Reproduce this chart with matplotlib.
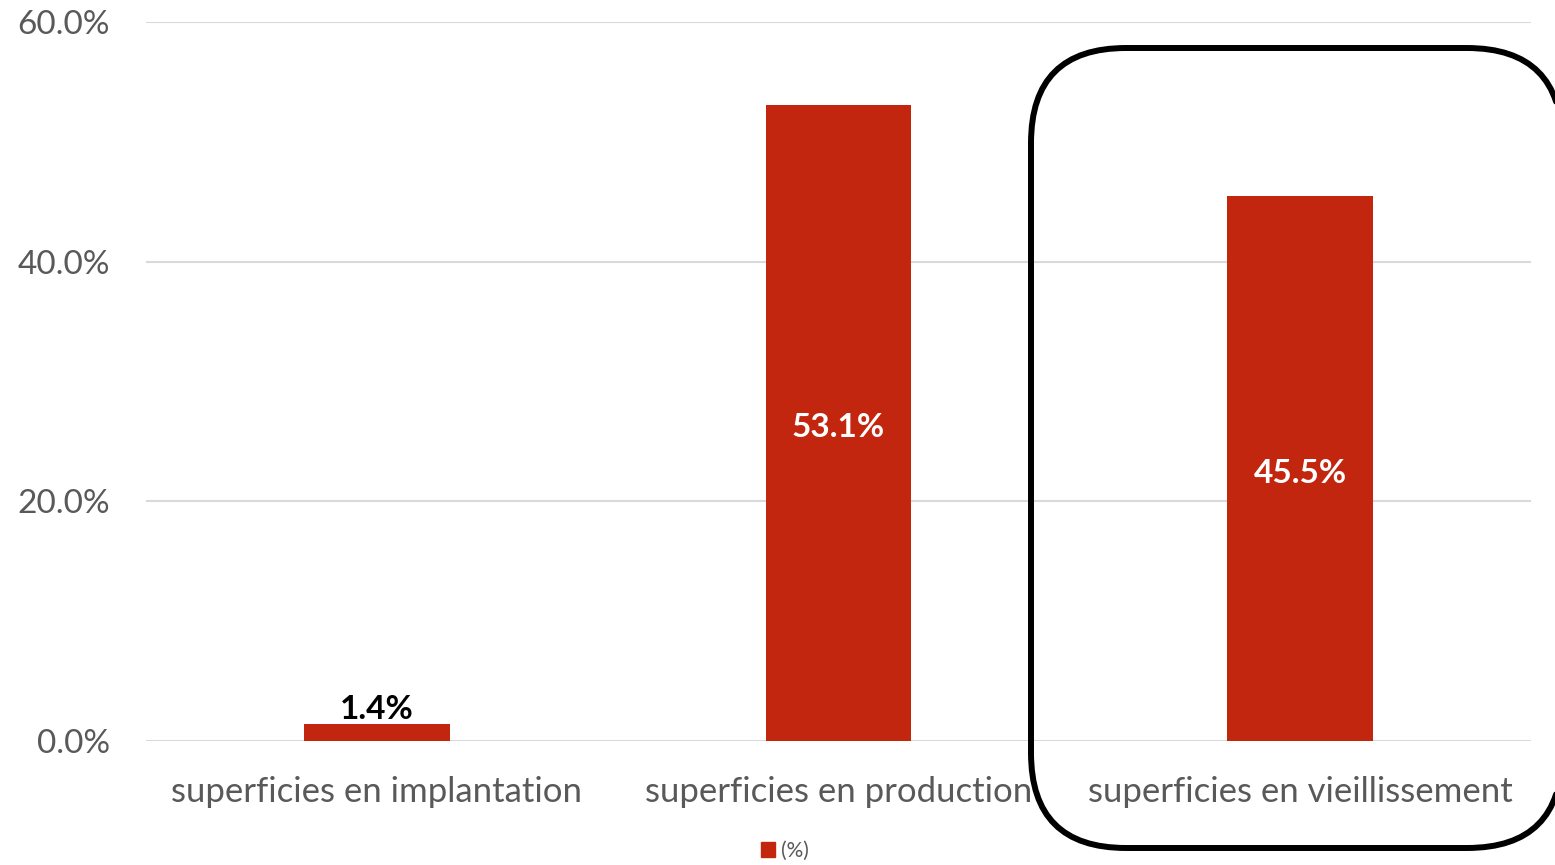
import matplotlib.pyplot as plt
from matplotlib.patches import FancyBboxPatch, Patch
from matplotlib.ticker import FuncFormatter

categories = ["superficies en implantation", "superficies en production", "superficies en vieillissement"]
values = [1.4, 53.1, 45.5]
yticks = [0, 20, 40, 60]
series_name = "(%)"

bar_color = "#C3260E"
grey = "#595959"

plt.rcParams["font.family"] = ["Lato", "DejaVu Sans"]

W, H = 1555, 865
fig = plt.figure(figsize=(W / 100, H / 100), dpi=100)
ax = fig.add_axes([146 / W, 1 - 741 / H, 1385 / W, 719 / H])

x = list(range(len(categories)))
ax.bar(x, values, width=0.315, color=bar_color, zorder=3)

ax.set_xlim(-0.5, 2.5)
ax.set_ylim(0, 60)
ax.set_yticks(yticks)
ax.yaxis.set_major_formatter(FuncFormatter(lambda v, p: f"{v:.1f}%"))
ax.grid(axis="y", color="#D9D9D9", linewidth=1.5, zorder=0)
ax.set_xticks(x)
ax.set_xticklabels(categories)
ax.tick_params(length=0, labelcolor=grey)
ax.tick_params(axis="x", pad=25, labelsize=25)
ax.tick_params(axis="y", pad=26, labelsize=24)
for s in ax.spines.values():
    s.set_visible(False)

for i, v in enumerate(values):
    if v < 10:
        ax.text(i, v, f"{v:.1f}%", ha="center", va="bottom",
                fontsize=24, fontweight="bold", color="black", zorder=4)
    else:
        ax.text(i, v / 2 - 0.4, f"{v:.1f}%", ha="center", va="center",
                fontsize=24, fontweight="bold", color="white", zorder=4)

# overlay in pixel units for the highlight box
ov = fig.add_axes([0, 0, 1, 1], facecolor="none")
ov.set_xlim(0, W)
ov.set_ylim(H, 0)
ov.axis("off")
box = FancyBboxPatch((1031, 48), 531, 800, boxstyle="round,pad=0,rounding_size=95")
# flatten the curves so the part running off the canvas is clipped cleanly
pts = box.get_path().to_polygons()[0]
ov.plot(pts[:, 0], pts[:, 1], color="black", linewidth=4.3,
        solid_joinstyle="round", solid_capstyle="round")

fig.legend(handles=[Patch(color=bar_color, label=series_name)],
           loc="center", bbox_to_anchor=(785 / W, 1 - 851 / H),
           frameon=False, fontsize=15, handlelength=0.7, handleheight=0.7,
           handletextpad=0.3, labelcolor=grey)

fig.savefig("out.png", dpi=100)
